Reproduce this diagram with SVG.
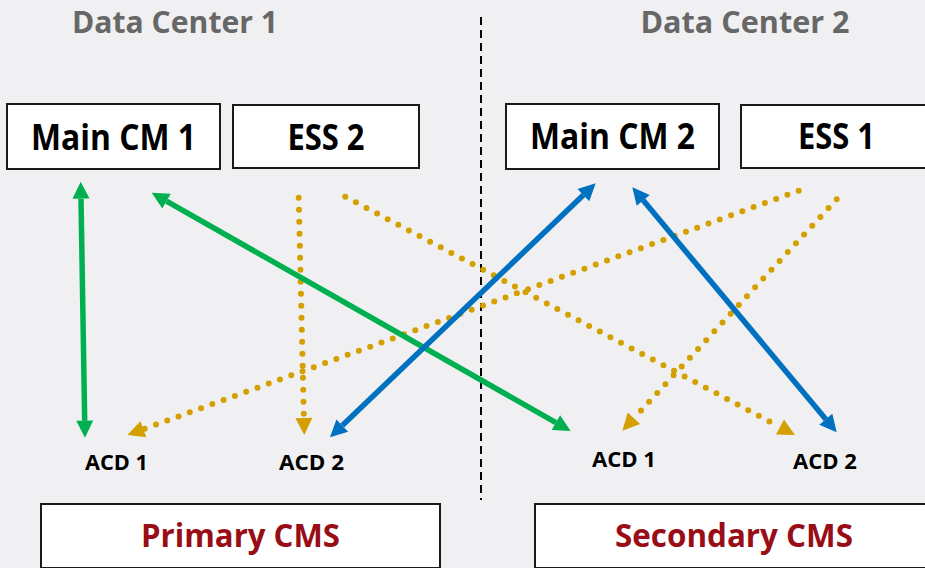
<svg xmlns="http://www.w3.org/2000/svg" width="925" height="568" viewBox="0 0 925 568">
  <defs>
    <style>
      .box { fill: #ffffff; stroke: #1a1a1a; stroke-width: 2; }
      .title { font-family: "Open Sans", "Liberation Sans", sans-serif; font-weight: bold; font-size: 30px; fill: #676767; text-anchor: middle; }
      .lbl { font-family: "Open Sans", "Liberation Sans", sans-serif; font-weight: bold; font-size: 35px; fill: #000000; text-anchor: middle; }
      .cms { font-family: "Open Sans", "Liberation Sans", sans-serif; font-weight: bold; font-size: 33px; fill: #990d16; text-anchor: middle; }
      .acd { font-family: "Open Sans", "Liberation Sans", sans-serif; font-weight: bold; font-size: 22px; fill: #000000; text-anchor: middle; }
      .green { stroke: #00b050; stroke-width: 5.5; fill: none; marker-start: url(#ag); marker-end: url(#ag); }
      .blue { stroke: #0070c0; stroke-width: 5.5; fill: none; marker-start: url(#ab); marker-end: url(#ab); }
      .gold { stroke: #d49f00; stroke-width: 6; stroke-linecap: round; stroke-dasharray: 0 12; fill: none; marker-end: url(#ay); }
    </style>
    <marker id="ag" markerUnits="userSpaceOnUse" markerWidth="18" markerHeight="18" refX="0" refY="8.5" orient="auto-start-reverse" overflow="visible">
      <path d="M0,0 L17,8.5 L0,17 z" fill="#00b050"/>
    </marker>
    <marker id="ab" markerUnits="userSpaceOnUse" markerWidth="18" markerHeight="18" refX="0" refY="8.5" orient="auto-start-reverse" overflow="visible">
      <path d="M0,0 L17,8.5 L0,17 z" fill="#0070c0"/>
    </marker>
    <marker id="ay" markerUnits="userSpaceOnUse" markerWidth="18" markerHeight="18" refX="0" refY="8.5" orient="auto" overflow="visible">
      <path d="M0,0 L17,8.5 L0,17 z" fill="#d49f00"/>
    </marker>
  </defs>

  <rect x="0" y="0" width="925" height="568" fill="#f0f0f2"/>

  <g id="titles">
    <text class="title" x="175" y="33" textLength="206" lengthAdjust="spacingAndGlyphs">Data Center 1</text>
    <text class="title" x="745" y="33" textLength="209" lengthAdjust="spacingAndGlyphs">Data Center 2</text>
  </g>

  <g id="divider">
    <line x1="481" y1="17" x2="481" y2="500" stroke="#000000" stroke-width="2" stroke-dasharray="8 5"/>
  </g>

  <g id="main-cm-1">
    <rect class="box" x="7" y="104" width="213" height="65"/>
    <text class="lbl" x="113.5" y="150" textLength="165" lengthAdjust="spacingAndGlyphs">Main CM 1</text>
  </g>
  <g id="ess-2">
    <rect class="box" x="233" y="105" width="186" height="63"/>
    <text class="lbl" x="326" y="150" textLength="77" lengthAdjust="spacingAndGlyphs">ESS 2</text>
  </g>
  <g id="main-cm-2">
    <rect class="box" x="506" y="104" width="213" height="65"/>
    <text class="lbl" x="612.5" y="149" textLength="165" lengthAdjust="spacingAndGlyphs">Main CM 2</text>
  </g>
  <g id="ess-1">
    <rect class="box" x="741" y="105" width="200" height="63"/>
    <text class="lbl" x="836.5" y="149" textLength="77" lengthAdjust="spacingAndGlyphs">ESS 1</text>
  </g>

  <g id="acd-1-dc1">
    <text class="acd" x="116.5" y="470" textLength="63" lengthAdjust="spacingAndGlyphs">ACD 1</text>
  </g>
  <g id="acd-2-dc1">
    <text class="acd" x="311.5" y="470" textLength="65" lengthAdjust="spacingAndGlyphs">ACD 2</text>
  </g>
  <g id="acd-1-dc2">
    <text class="acd" x="624" y="467" textLength="64" lengthAdjust="spacingAndGlyphs">ACD 1</text>
  </g>
  <g id="acd-2-dc2">
    <text class="acd" x="825" y="469" textLength="64" lengthAdjust="spacingAndGlyphs">ACD 2</text>
  </g>

  <g id="primary-cms">
    <rect class="box" x="41" y="504" width="399" height="64"/>
    <text class="cms" x="240.5" y="547" textLength="199" lengthAdjust="spacingAndGlyphs">Primary CMS</text>
  </g>
  <g id="secondary-cms">
    <rect class="box" x="535" y="504" width="400" height="64"/>
    <text class="cms" x="734" y="547" textLength="238" lengthAdjust="spacingAndGlyphs">Secondary CMS</text>
  </g>

  <g id="connectors">
    <line class="gold" x1="298.7" y1="197.7" x2="303.9" y2="418"/>
    <line class="gold" x1="345.3" y1="196.7" x2="780" y2="427"/>
    <line class="gold" x1="798.7" y1="190.7" x2="143.3" y2="429.2"/>
    <line class="gold" x1="836.7" y1="199.3" x2="633.9" y2="418.2"/>
    <line class="green" x1="81" y1="198.7" x2="84.7" y2="420.7"/>
    <line class="green" x1="166.5" y1="201.1" x2="555.9" y2="422.6"/>
    <line class="blue" x1="583.4" y1="195.05" x2="342.3" y2="425.55"/>
    <line class="blue" x1="643.2" y1="200.35" x2="825.8" y2="419.25"/>
  </g>
</svg>
